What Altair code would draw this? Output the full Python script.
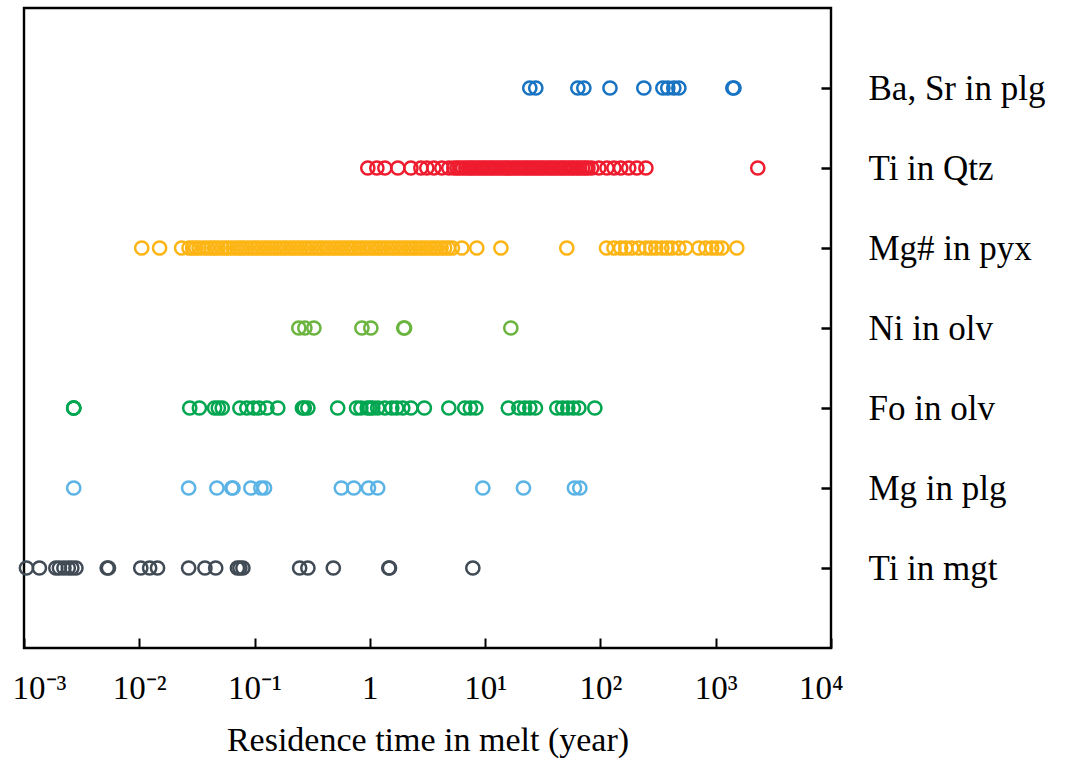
import altair as alt
import pandas as pd

categories = ["Ba, Sr in plg", "Ti in Qtz", "Mg# in pyx", "Ni in olv",
              "Fo in olv", "Mg in plg", "Ti in mgt"]
colors = ["#1874C2", "#EE1C2E", "#FDB515", "#6BB43F", "#00A650", "#5BB4E5", "#404B55"]

ba_sr_plg = [24.4, 27.5, 63.7, 71.8, 121, 238, 348, 384, 433, 479, 1409, 1440]

ti_qtz = [0.96, 1.15, 1.35, 1.75, 2.27, 2.77, 3.12, 3.59, 4.21, 4.84, 5.35,
          5.7, 6.0, 6.4, 6.8, 7.2, 7.6, 8.0, 8.5, 9.0, 9.5, 10, 10.6, 11.2, 11.8,
          12.5, 13.2, 14, 14.8, 15.6, 16.5, 17.5, 18.5, 19.5, 20.6, 21.8, 23, 24.3,
          25.7, 27.2, 28.7, 30.3, 32, 34, 36, 38, 40, 42.5, 45, 47.5, 50, 53, 56,
          59, 62.5, 66, 70, 74, 78, 84, 97, 114, 131, 150, 176, 207, 248, 2317]

mg_pyx = [0.0105, 0.0150, 0.0233,
          0.027, 0.029, 0.031, 0.033, 0.036, 0.039, 0.042, 0.045, 0.048, 0.052,
          0.056, 0.06, 0.065, 0.07, 0.075, 0.08, 0.086, 0.093, 0.1, 0.107, 0.115,
          0.124, 0.133, 0.143, 0.154, 0.165, 0.178, 0.19, 0.205, 0.22, 0.236,
          0.254, 0.273, 0.293, 0.315, 0.34, 0.365, 0.39, 0.42, 0.45, 0.485, 0.52,
          0.56, 0.6, 0.645, 0.69, 0.74, 0.8, 0.86, 0.92, 0.99, 1.06, 1.14, 1.22,
          1.31, 1.41, 1.52, 1.63, 1.75, 1.88, 2.02, 2.17, 2.33, 2.5, 2.7, 2.9,
          3.1, 3.35, 3.6, 3.85, 4.15, 4.45, 4.8, 5.2,
          6.28, 8.47, 13.7, 51.1, 113, 131, 150, 166, 187, 215, 248, 274, 302,
          341, 377, 416, 478, 550, 713, 820, 925, 1022, 1130, 1524]

ni_olv = [0.242, 0.273, 0.327, 0.853, 1.02, 1.97, 2.0, 16.7]

fo_olv = [0.0027, 0.0027, 0.0027, 0.0274, 0.0332, 0.045, 0.0485, 0.0524, 0.0746,
          0.0857, 0.098, 0.109, 0.128, 0.159, 0.26, 0.27, 0.29, 0.526, 0.767,
          0.836, 0.95, 1.0, 1.06, 1.17, 1.35, 1.55, 1.71, 1.93, 2.27, 2.97, 4.84,
          6.66, 7.44, 8.3, 15.9, 19.6, 22, 24.4, 27.3, 41.9, 46.9, 52.1, 58.2,
          65, 89.4]

mg_plg = [0.0027, 0.0268, 0.0471, 0.0635, 0.065, 0.0929, 0.1135, 0.122, 0.566,
          0.726, 0.973, 1.17, 9.55, 21.5, 59.5, 66.3]

ti_mgt = [0.00105, 0.00136, 0.00189, 0.00203, 0.00222, 0.00242, 0.0026, 0.00282,
          0.00527, 0.0054, 0.0103, 0.0123, 0.0144, 0.0268, 0.0371, 0.046, 0.071,
          0.0746, 0.0792, 0.246, 0.29, 0.482, 1.46, 1.48, 7.82]

x_ticks = [0.001, 0.01, 0.1, 1, 10, 100, 1000, 10000]

series = [ba_sr_plg, ti_qtz, mg_pyx, ni_olv, fo_olv, mg_plg, ti_mgt]
rows = []
for cat, vals in zip(categories, series):
    for v in vals:
        rows.append({"cat": cat, "t": v})
df = pd.DataFrame(rows)

serif = "Liberation Serif"

chart = alt.Chart(df).mark_point(
    shape="circle", filled=False, strokeWidth=2.5, size=175, opacity=1
).encode(
    x=alt.X("t:Q",
            scale=alt.Scale(type="log", domain=[0.001, 10000], nice=False),
            axis=alt.Axis(
                values=x_ticks, grid=False, domain=False, offset=-10,
                tickSize=10, tickWidth=2, tickColor="#000",
                labelExpr="['10⁻³','10⁻²','10⁻¹','1','10¹','10²','10³','10⁴'][round(log(datum.value)/LN10)+3]",
                labelFont=serif, labelFontSize=33, labelColor="#000",
                labelPadding=24, labelFlush=True, labelFlushOffset=12,
                title="Residence time in melt (year)", titleFont=serif,
                titleFontSize=34, titleFontWeight="normal", titleColor="#000",
                titlePadding=18)),
    y=alt.Y("cat:N",
            scale=alt.Scale(type="point", domain=categories, padding=1),
            axis=alt.Axis(
                orient="right", grid=False, domain=False, offset=-10,
                tickSize=10, tickWidth=2.5, tickColor="#000",
                labelFont=serif, labelFontSize=35, labelColor="#000",
                labelAlign="left", labelPadding=37, title=None)),
    color=alt.Color("cat:N", scale=alt.Scale(domain=categories, range=colors),
                    legend=None),
).properties(
    width=807, height=640,
    autosize=alt.AutoSizeParams(type="none"),
    padding={"left": 24, "top": 8, "right": 234, "bottom": 112},
).configure_view(
    stroke="#000", strokeWidth=2.4
)

chart.save("out.html", embed_options={"renderer": "svg", "actions": False})
